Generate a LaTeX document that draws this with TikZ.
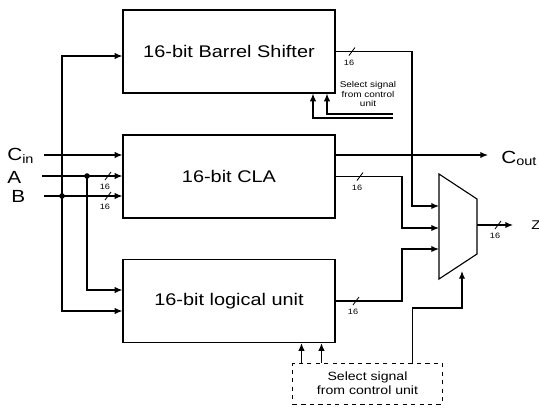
\documentclass[tikz,border=0pt]{standalone}
\usepackage{fontspec}
\setmainfont[FakeStretch=1.18]{Liberation Sans}
\usetikzlibrary{arrows.meta, calc}
\tikzset{
    block/.style={rectangle, draw=black, line width=0.8pt, minimum width=5.3cm, minimum height=2.075cm, align=center, font=\fontsize{12}{14}\selectfont},
    ctrl/.style={rectangle, draw=black, dashed, line width=0.7pt, minimum width=3.725cm, minimum height=1.025cm, align=center, font=\fontsize{8.5}{10}\selectfont},
    lbl/.style={font=\fontsize{12.5}{14}\selectfont, inner sep=0pt},
    note/.style={align=center, font=\fontsize{6}{7}\selectfont, inner sep=0pt},
    wire/.style={line width=0.8pt},
    arrow/.style={line width=0.8pt, -{Latex[length=5.5pt,width=4.5pt]}},
    joint/.style={circle, fill=black, inner sep=0pt, minimum size=4pt},
    pics/bus/.style={code={
        \draw[line width=0.6pt] (-3,4) -- (3,-4);
        \node[font=\fontsize{5.5}{6}\selectfont, inner sep=0pt] at (-3,11) {#1};
    }}
}
\begin{document}
\begin{tikzpicture}[x=0.025cm, y=-0.025cm]
    \useasboundingbox (0,0) rectangle (539,410);

    \node (shifter) [block] at (229,51.5) {16-bit Barrel Shifter};
    \node (cla) [block] at (229,176.5) {16-bit CLA};
    \node (logic) [block] at (229,301) {16-bit logical unit};
    \node (sel) [ctrl] at (367.5,383.5) {Select signal\\from control unit};
    \node (shsel) [note] at (368,94) {Select signal\\from control\\unit};

    \coordinate (mux-a) at (439,174);
    \coordinate (mux-b) at (477,199);
    \coordinate (mux-c) at (477,254);
    \coordinate (mux-d) at (439,279);
    \draw [wire] (mux-a) -- (mux-b) -- (mux-c) -- (mux-d) -- cycle;
    \coordinate (mux-in1) at (439,206);
    \coordinate (mux-in2) at (439,228);
    \coordinate (mux-in3) at (439,249);
    \coordinate (mux-out) at (477,225);
    \coordinate (mux-sel) at (462,271);

    \coordinate (cin) at (44,155);
    \coordinate (ain) at (42,176);
    \coordinate (bin) at (44,196);
    \coordinate (cout) at (488,155);
    \coordinate (zout) at (513,225);
    \coordinate (ss1) at (393,118);
    \coordinate (ss2) at (393,114);

    \node (cinlbl) [lbl, anchor=base west] at (7,160) {C\textsubscript{in}};
    \node (albl) [lbl, anchor=base west] at (7,183) {A};
    \node (blbl) [lbl, anchor=base west] at (11,202) {B};
    \node (coutlbl) [lbl, anchor=base west] at (501,163) {C\textsubscript{out}};
    \node (zlbl) [font=\fontsize{9}{10}\selectfont, inner sep=0pt, anchor=base west] at (531,229) {Z};

    \node (adot) [joint] at (87,176) {};
    \node (bdot) [joint] at (62,196) {};

    \draw [arrow] (cin) -- (cin -| cla.west);
    \draw [arrow] (ain) -- (ain -| cla.west);
    \draw [arrow] (bin) -- (bin -| cla.west);
    \draw [arrow] (bdot.center) |- ($(shifter.west)+(0,4.5)$);
    \draw [arrow] (bdot.center) |- ($(logic.west)+(0,10)$);
    \draw [arrow] (adot.center) |- ($(logic.west)+(0,-11)$);
    \pic at (108,176) {bus=16};
    \pic at (108,196) {bus=16};

    \draw [arrow] (ss1) -| ($(shifter.south)+(84,0)$);
    \draw [arrow] (ss2) -| ($(shifter.south)+(98,0)$);

    \draw [arrow] (shifter.east) -| ($(mux-in1)+(-27,0)$) -- (mux-in1);
    \draw [arrow] ($(cla.east)+(0,-21.5)$) -- (cout);
    \draw [arrow] (cla.east) -| ($(mux-in2)+(-37,0)$) -- (mux-in2);
    \draw [arrow] (logic.east) -| ($(mux-in3)+(-37,0)$) -- (mux-in3);
    \draw [arrow] (mux-out) -- (zout);
    \pic at (352,51.5) {bus=16};
    \pic at (360,176.5) {bus=16};
    \pic at (356,301) {bus=16};
    \pic at (498,225) {bus=16};

    \draw [arrow] ($(sel.north west)+(9,0)$) coordinate (s1) -- (s1 |- logic.south);
    \draw [arrow] ($(sel.north west)+(29,0)$) coordinate (s2) -- (s2 |- logic.south);
    \draw [arrow] ($(sel.north west)+(120,0)$) |- ($(mux-sel)+(0,37)$) -- (mux-sel);
\end{tikzpicture}
\end{document}
